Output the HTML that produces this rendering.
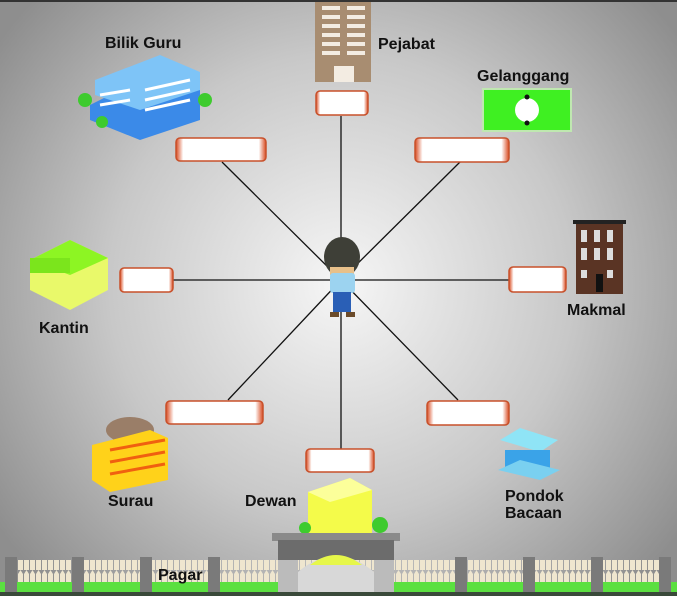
<!DOCTYPE html>
<html><head><meta charset="utf-8"><style>
html,body{margin:0;padding:0;background:#999;}
svg{display:block;}
text{font-family:"Liberation Sans",sans-serif;font-weight:bold;font-size:16px;fill:#111;}
</style></head><body>
<svg width="677" height="596" viewBox="0 0 677 596" xmlns="http://www.w3.org/2000/svg">
<defs>
<radialGradient id="bg" cx="341" cy="285" r="420" gradientUnits="userSpaceOnUse">
<stop offset="0" stop-color="#f6f6f6"/><stop offset="0.55" stop-color="#c8c8c8"/><stop offset="1" stop-color="#8e8e8e"/>
</radialGradient>
<linearGradient id="bx" x1="0" x2="1"><stop offset="0" stop-color="#d84a20"/><stop offset="0.08" stop-color="#fff"/><stop offset="0.92" stop-color="#fff"/><stop offset="1" stop-color="#d84a20"/></linearGradient>
<pattern id="fence" width="6" height="30" patternUnits="userSpaceOnUse"><rect x="0" y="4" width="5" height="26" fill="#efe6cf"/><polygon points="0,4 2.5,0 5,4" fill="#efe6cf"/></pattern>
</defs>
<rect width="677" height="596" fill="url(#bg)"/>
<rect x="0" y="0" width="677" height="2" fill="#333"/>
<g stroke="#111" stroke-width="1.3">
<line x1="341" y1="280" x2="341" y2="116"/>
<line x1="341" y1="280" x2="222" y2="162"/>
<line x1="341" y1="280" x2="460" y2="162"/>
<line x1="341" y1="280" x2="173" y2="280"/>
<line x1="341" y1="280" x2="509" y2="280"/>
<line x1="341" y1="280" x2="228" y2="400"/>
<line x1="341" y1="280" x2="458" y2="400"/>
<line x1="341" y1="280" x2="341" y2="449"/>
</g>
<g stroke="#c8502a" stroke-width="1.5" fill="url(#bx)">
<rect x="316" y="91" width="52" height="24" rx="4"/>
<rect x="176" y="138" width="90" height="23" rx="4"/>
<rect x="415" y="138" width="94" height="24" rx="4"/>
<rect x="120" y="268" width="53" height="24" rx="4"/>
<rect x="509" y="267" width="57" height="25" rx="4"/>
<rect x="166" y="401" width="97" height="23" rx="4"/>
<rect x="427" y="401" width="82" height="24" rx="4"/>
<rect x="306" y="449" width="68" height="23" rx="4"/>
</g>
<!-- person -->
<ellipse cx="342" cy="257" rx="18" ry="20" fill="#3e3f37"/>
<rect x="330" y="267" width="24" height="8" fill="#e8c08a"/>
<rect x="330" y="273" width="25" height="20" rx="3" fill="#9cd3f0"/>
<rect x="333" y="292" width="18" height="20" fill="#2a5fb6"/>
<rect x="330" y="312" width="9" height="5" fill="#6b4b2a"/><rect x="346" y="312" width="9" height="5" fill="#6b4b2a"/>
<!-- Pejabat -->
<rect x="315" y="2" width="56" height="80" fill="#a88d71"/>
<g fill="#f3ece2"><rect x="322" y="6" width="18" height="4"/><rect x="347" y="6" width="18" height="4"/><rect x="322" y="15" width="18" height="4"/><rect x="347" y="15" width="18" height="4"/><rect x="322" y="24" width="18" height="4"/><rect x="347" y="24" width="18" height="4"/><rect x="322" y="33" width="18" height="4"/><rect x="347" y="33" width="18" height="4"/><rect x="322" y="42" width="18" height="4"/><rect x="347" y="42" width="18" height="4"/><rect x="322" y="51" width="18" height="4"/><rect x="347" y="51" width="18" height="4"/><rect x="334" y="66" width="20" height="16"/></g>
<!-- Bilik Guru -->
<polygon points="90,105 160,70 200,90 200,120 140,140 90,120" fill="#3b8ae8"/>
<polygon points="95,80 160,55 200,72 200,90 140,110 95,95" fill="#7ec4f7"/>
<g stroke="#fff" stroke-width="3"><line x1="145" y1="90" x2="190" y2="80"/><line x1="145" y1="100" x2="190" y2="90"/><line x1="145" y1="110" x2="190" y2="100"/><line x1="100" y1="95" x2="130" y2="90"/><line x1="100" y1="105" x2="130" y2="100"/></g>
<circle cx="85" cy="100" r="7" fill="#3ecb2e"/><circle cx="205" cy="100" r="7" fill="#3ecb2e"/><circle cx="102" cy="122" r="6" fill="#3ecb2e"/>
<!-- Gelanggang -->
<rect x="483" y="89" width="88" height="42" fill="#3ff022" stroke="#bfe8b0" stroke-width="2"/>
<circle cx="527" cy="110" r="12" fill="#fff"/><circle cx="527" cy="97" r="2.5" fill="#111"/><circle cx="527" cy="123" r="2.5" fill="#111"/>
<!-- Makmal -->
<rect x="573" y="220" width="53" height="4" fill="#222"/>
<rect x="576" y="224" width="47" height="70" fill="#5a3424"/>
<g fill="#ddd"><rect x="581" y="230" width="6" height="12"/><rect x="594" y="230" width="6" height="12"/><rect x="607" y="230" width="6" height="12"/><rect x="581" y="248" width="6" height="12"/><rect x="594" y="248" width="6" height="12"/><rect x="607" y="248" width="6" height="12"/><rect x="581" y="270" width="6" height="8"/><rect x="607" y="270" width="6" height="8"/></g>
<rect x="596" y="274" width="7" height="18" fill="#111"/>
<!-- Kantin -->
<polygon points="30,260 70,240 108,258 108,290 70,310 30,290" fill="#e9f96a"/>
<polygon points="30,260 70,240 108,258 70,275" fill="#8df523"/>
<rect x="30" y="258" width="40" height="15" fill="#7be51c"/>
<!-- Surau -->
<ellipse cx="130" cy="430" rx="24" ry="13" fill="#9a7e68"/>
<polygon points="92,445 150,430 168,438 168,480 110,492 92,480" fill="#ffd21a"/>
<g stroke="#f06010" stroke-width="3"><line x1="110" y1="450" x2="165" y2="440"/><line x1="110" y1="462" x2="165" y2="452"/><line x1="110" y1="474" x2="165" y2="464"/></g>
<!-- Pondok -->
<polygon points="500,440 520,428 558,440 540,452" fill="#8fe4f6"/>
<rect x="505" y="450" width="45" height="20" fill="#3aa3e8"/>
<polygon points="498,470 540,480 560,470 520,460" fill="#7ad0f0"/>
<!-- Dewan -->
<polygon points="308,492 350,478 372,490 372,535 330,545 308,535" fill="#f4fb4a"/>
<polygon points="308,492 350,478 372,490 330,502" fill="#fcff9a"/>
<circle cx="380" cy="525" r="8" fill="#3ecb2e"/><circle cx="305" cy="528" r="6" fill="#3ecb2e"/>
<!-- fence -->
<rect x="10" y="560" width="660" height="24" fill="url(#fence)"/>
<rect x="0" y="582" width="677" height="10" fill="#5be040"/>
<rect x="0" y="592" width="677" height="4" fill="#3a4a3a"/>
<g fill="#7a7a7a"><rect x="5" y="557" width="12" height="35"/><rect x="72" y="557" width="12" height="35"/><rect x="140" y="557" width="12" height="35"/><rect x="208" y="557" width="12" height="35"/><rect x="455" y="557" width="12" height="35"/><rect x="523" y="557" width="12" height="35"/><rect x="591" y="557" width="12" height="35"/><rect x="659" y="557" width="12" height="35"/></g>
<!-- gate -->
<rect x="272" y="533" width="128" height="8" fill="#8a8a8a"/>
<rect x="278" y="540" width="116" height="20" fill="#6c6c6c"/>
<rect x="278" y="560" width="20" height="32" fill="#bbb"/><rect x="374" y="560" width="20" height="32" fill="#bbb"/>
<path d="M298,592 V572 Q336,540 374,572 V592 Z" fill="#d8d8d8"/>
<path d="M310,565 Q336,545 362,565 Z" fill="#e6f74a"/>
<text x="105" y="48">Bilik Guru</text>
<text x="378" y="49">Pejabat</text>
<text x="477" y="81">Gelanggang</text>
<text x="567" y="315">Makmal</text>
<text x="39" y="333">Kantin</text>
<text x="108" y="506">Surau</text>
<text x="245" y="506">Dewan</text>
<text x="505" y="501">Pondok</text>
<text x="505" y="518">Bacaan</text>
<text x="158" y="580">Pagar</text>
</svg>
</body></html>
